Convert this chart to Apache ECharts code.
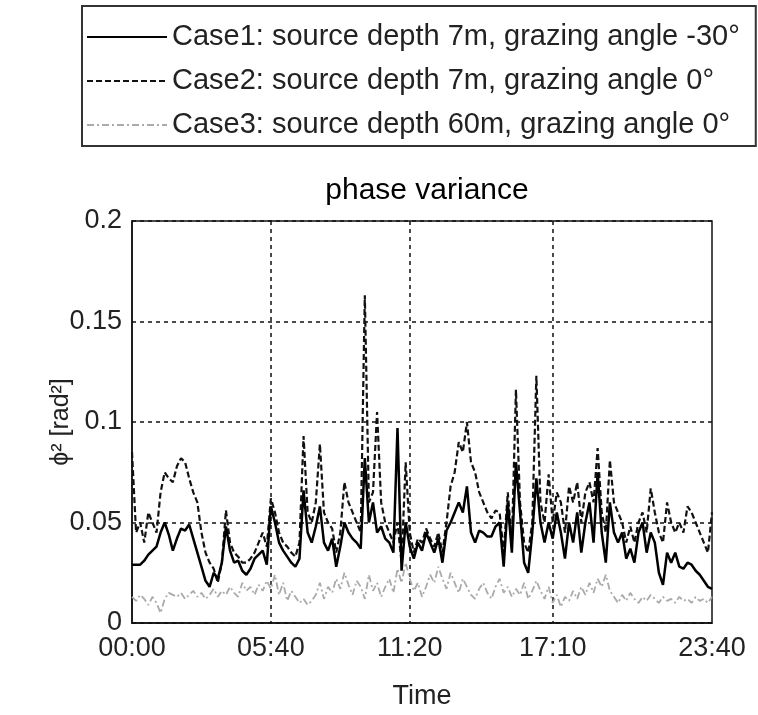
<!DOCTYPE html>
<html>
<head>
<meta charset="utf-8">
<script src="https://cdn.jsdelivr.net/npm/echarts@6/dist/echarts.min.js"></script>
<style>html,body{margin:0;padding:0;background:#fff;}#c{width:758px;height:715px;}</style>
</head>
<body>
<div id="c"></div>
<script>
// sample times every 10 minutes, 00:00 .. 23:40
const sampleStepMin = 10;
const totalMin = 1420;
const tickLabels = ['00:00', '05:40', '11:20', '17:10', '23:40'];
const yTicks = [0, 0.05, 0.1, 0.15, 0.2];

const seriesNames = [
  'Case1: source depth 7m, grazing angle -30°',
  'Case2: source depth 7m, grazing angle 0°',
  'Case3: source depth 60m, grazing angle 0°'
];

const case1 = [
  0.029,0.029,0.029,0.031,0.034,0.036,0.038,0.045,0.050,0.044,
  0.036,0.042,0.047,0.046,0.049,0.042,0.035,0.028,0.021,0.018,
  0.025,0.022,0.030,0.048,0.036,0.030,0.031,0.026,0.024,0.027,
  0.032,0.034,0.036,0.029,0.058,0.050,0.040,0.036,0.033,0.030,
  0.028,0.032,0.066,0.045,0.040,0.048,0.058,0.040,0.036,0.042,
  0.028,0.038,0.050,0.045,0.042,0.040,0.037,0.082,0.050,0.060,
  0.045,0.048,0.042,0.040,0.035,0.097,0.026,0.050,0.038,0.032,
  0.040,0.036,0.045,0.040,0.035,0.042,0.030,0.046,0.050,0.055,
  0.060,0.055,0.068,0.045,0.040,0.046,0.045,0.043,0.043,0.048,
  0.050,0.028,0.060,0.035,0.080,0.055,0.030,0.025,0.045,0.072,
  0.050,0.040,0.050,0.042,0.055,0.045,0.032,0.050,0.040,0.055,
  0.035,0.050,0.060,0.040,0.075,0.045,0.030,0.060,0.045,0.040,
  0.045,0.032,0.037,0.030,0.045,0.050,0.035,0.045,0.040,0.025,
  0.019,0.035,0.030,0.035,0.028,0.027,0.030,0.029,0.026,0.024,
  0.021,0.018,0.017
];

const case2 = [
  0.085,0.045,0.050,0.040,0.055,0.050,0.045,0.065,0.075,0.072,
  0.070,0.078,0.082,0.080,0.072,0.065,0.060,0.045,0.035,0.030,
  0.027,0.020,0.030,0.056,0.040,0.035,0.033,0.030,0.030,0.032,
  0.035,0.040,0.045,0.038,0.062,0.055,0.045,0.040,0.038,0.035,
  0.033,0.040,0.093,0.055,0.050,0.060,0.089,0.055,0.050,0.047,
  0.035,0.045,0.070,0.060,0.055,0.050,0.045,0.163,0.060,0.065,
  0.105,0.060,0.050,0.045,0.040,0.050,0.030,0.080,0.045,0.035,
  0.042,0.040,0.047,0.042,0.038,0.045,0.035,0.050,0.068,0.075,
  0.090,0.085,0.100,0.080,0.075,0.065,0.060,0.055,0.052,0.056,
  0.055,0.035,0.065,0.040,0.116,0.060,0.040,0.035,0.050,0.123,
  0.060,0.050,0.074,0.050,0.065,0.060,0.045,0.068,0.060,0.070,
  0.050,0.065,0.070,0.060,0.087,0.055,0.045,0.081,0.060,0.055,
  0.050,0.040,0.048,0.040,0.050,0.055,0.045,0.067,0.055,0.045,
  0.040,0.060,0.050,0.045,0.050,0.045,0.058,0.055,0.050,0.045,
  0.040,0.035,0.055
];

const case3 = [
  0.013,0.011,0.014,0.012,0.009,0.013,0.010,0.005,0.012,0.015,
  0.014,0.013,0.015,0.012,0.014,0.016,0.013,0.015,0.012,0.014,
  0.017,0.013,0.016,0.014,0.018,0.015,0.013,0.020,0.016,0.018,
  0.014,0.019,0.016,0.021,0.017,0.024,0.014,0.020,0.011,0.016,
  0.013,0.010,0.012,0.009,0.011,0.014,0.020,0.012,0.018,0.015,
  0.022,0.017,0.025,0.019,0.014,0.021,0.018,0.012,0.024,0.016,
  0.020,0.013,0.018,0.022,0.015,0.027,0.020,0.030,0.022,0.016,
  0.020,0.013,0.018,0.024,0.020,0.028,0.022,0.017,0.025,0.020,
  0.015,0.022,0.018,0.014,0.012,0.017,0.020,0.015,0.012,0.018,
  0.022,0.015,0.018,0.013,0.017,0.014,0.020,0.012,0.016,0.021,
  0.016,0.012,0.018,0.010,0.014,0.008,0.013,0.011,0.016,0.012,
  0.018,0.014,0.020,0.015,0.022,0.018,0.024,0.016,0.013,0.010,
  0.014,0.011,0.015,0.012,0.010,0.013,0.011,0.014,0.012,0.010,
  0.013,0.011,0.012,0.010,0.013,0.011,0.012,0.010,0.013,0.011,
  0.012,0.010,0.013
];

const times = [];
for (let m = 0; m <= totalMin; m += sampleStepMin) {
  const h = Math.floor(m / 60), mm = m % 60;
  times.push(String(h).padStart(2, '0') + ':' + String(mm).padStart(2, '0'));
}
const isTick = (idx) => tickLabels.indexOf(times[idx]) >= 0;
const isInnerTick = (idx) => tickLabels.indexOf(times[idx]) > 0 && tickLabels.indexOf(times[idx]) < tickLabels.length - 1;

const FONT = '"Liberation Sans", Arial, sans-serif';
const chart = echarts.init(document.getElementById('c'), null, {renderer: 'canvas'});
chart.setOption({
  animation: false,
  backgroundColor: '#fff',
  title: {
    text: 'phase variance',
    left: 422, top: 171, textAlign: 'center',
    textStyle: {fontFamily: FONT, fontSize: 30, fontWeight: 'normal', color: '#000'}
  },
  legend: {
    orient: 'vertical',
    left: 82, top: 6,
    padding: [16, 16, 6, 4],
    itemGap: 14,
    itemWidth: 80, itemHeight: 14,
    borderColor: '#333', borderWidth: 2,
    itemStyle: {opacity: 0},
    textStyle: {fontFamily: FONT, fontSize: 29, color: '#222', lineHeight: 30},
    data: seriesNames
  },
  grid: {left: 132, right: 46, top: 221, bottom: 79, show: true, borderColor: '#111', borderWidth: 1.5, backgroundColor: 'transparent'},
  xAxis: {
    type: 'category',
    data: times,
    boundaryGap: false,
    name: 'Time', nameLocation: 'middle', nameGap: 60, nameMoveOverlap: false,
    nameTextStyle: {fontFamily: FONT, fontSize: 27, color: '#222'},
    axisLine: {lineStyle: {color: '#111', width: 1.5}},
    axisTick: {show: false},
    axisLabel: {interval: isTick, fontFamily: FONT, fontSize: 27, color: '#222', margin: 12},
    splitLine: {show: true, interval: isInnerTick, lineStyle: {color: '#111', type: [4, 4], width: 1.5}}
  },
  yAxis: {
    type: 'value', min: 0, max: 0.2, interval: 0.05,
    name: 'ϕ² [rad²]', nameLocation: 'middle', nameGap: 58, nameRotate: 90, nameMoveOverlap: false,
    nameTextStyle: {fontFamily: FONT, fontSize: 25, color: '#222'},
    axisLine: {show: true, lineStyle: {color: '#111', width: 1.5}},
    axisTick: {show: false},
    axisLabel: {fontFamily: FONT, fontSize: 27, color: '#222', margin: 10},
    splitLine: {show: true, lineStyle: {color: '#111', type: [4, 4], width: 1.5}}
  },
  series: [
    {name: seriesNames[0], type: 'line', data: case1, symbol: 'none', z: 5,
     lineStyle: {color: '#000', width: 2.5, type: 'solid'}, itemStyle: {color: '#000'}},
    {name: seriesNames[1], type: 'line', data: case2, symbol: 'none', z: 4,
     lineStyle: {color: '#111', width: 2.2, type: [6, 3]}, itemStyle: {color: '#111'}},
    {name: seriesNames[2], type: 'line', data: case3, symbol: 'none', z: 3,
     lineStyle: {color: '#aaa', width: 1.8, type: [7, 3, 2, 3]}, itemStyle: {color: '#aaa'}}
  ]
});
</script>
</body>
</html>
